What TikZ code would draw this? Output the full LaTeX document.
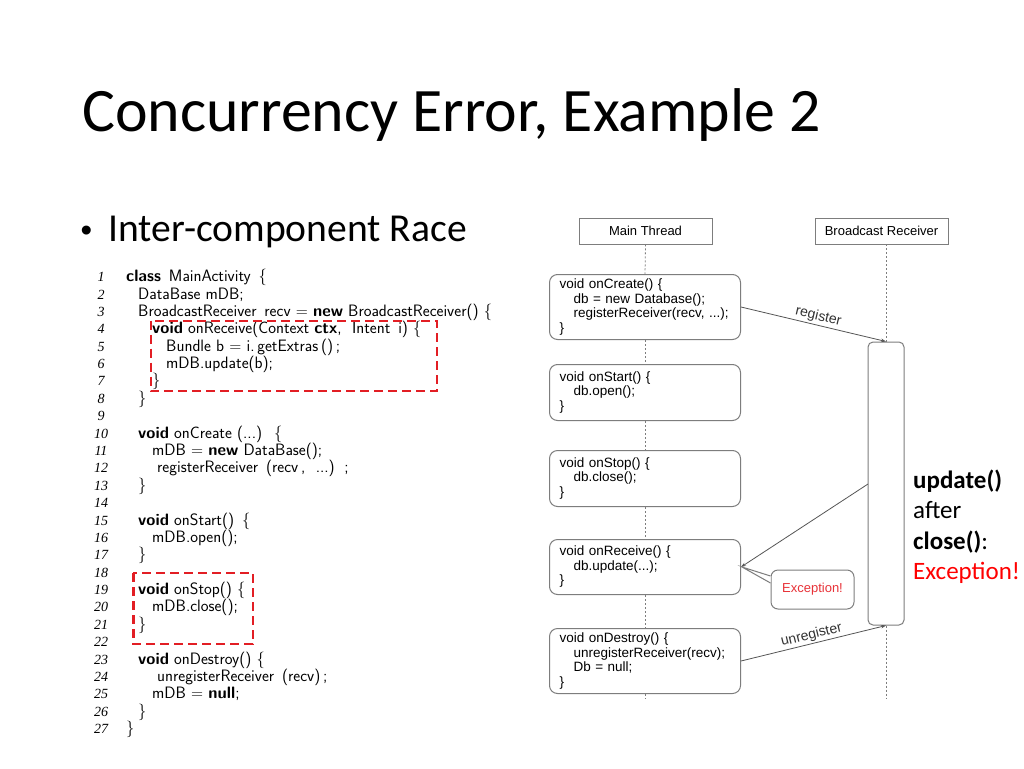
\documentclass[tikz,border=0pt]{standalone}
\usepackage{fontspec}
\newfontfamily\calibri{Carlito}
\newfontfamily\arial{Liberation Sans}
\newfontfamily\tmsfont{Liberation Serif}
\usetikzlibrary{arrows.meta,calc}
\definecolor{codered}{RGB}{226,30,36}
\definecolor{exred}{RGB}{232,50,56}
\definecolor{slred}{RGB}{255,0,0}
\definecolor{boxgray}{RGB}{125,125,125}
\definecolor{linegray}{RGB}{85,85,85}
\newcommand\codeln[3]{%
  \node[codetxt] (c#1) at (#2,{281.7+(#1-1)*17.38}) {#3};%
  \node[lnum] (n#1) at (101,{281.7+(#1-1)*17.38}) {#1};}
\newcommand\blankln[1]{%
  \node[lnum] (n#1) at (101,{281.7+(#1-1)*17.38}) {#1};}
\begin{document}
\begin{tikzpicture}[x=1pt,y=-1pt,
  codetxt/.style={anchor=base west, inner sep=0pt, text=black, font=\sffamily\fontsize{16.5}{17}\selectfont},
  lnum/.style={anchor=base, inner sep=0pt, font=\tmsfont\itshape\fontsize{14}{15}\selectfont},
  hdr/.style={draw=boxgray, line width=0.9pt, minimum width=133pt, minimum height=26pt, inner sep=0pt, font=\arial\fontsize{13}{15}\selectfont},
  mbox/.style={draw=boxgray, line width=1pt, rounded corners=8pt, minimum width=191pt, text width=171pt, align=left, inner xsep=10pt, inner ysep=0pt, font=\arial\fontsize{13.5}{14.5}\selectfont, anchor=north west},
  life/.style={draw=boxgray, line width=0.8pt, dash pattern=on 2pt off 2pt},
  msg/.style={draw=linegray, line width=0.8pt, -{Stealth[length=5pt,width=3.5pt]}},
  msglbl/.style={sloped, above, inner sep=1.5pt, font=\arial\fontsize{14}{15}\selectfont, text=black!80},
  redbox/.style={draw=codered, line width=2.4pt, dash pattern=on 9pt off 5pt},
  slide/.style={anchor=base west, inner sep=0pt, font=\calibri\fontsize{25}{30}\selectfont}]
\useasboundingbox (0,0) rectangle (1024,768);
\fill[white] (0,0) rectangle (1024,768);

% title and bullet
\node[anchor=base west, inner sep=0pt, font=\calibri\fontsize{61.8}{70}\selectfont] (title) at (82,131.7) {Concurrency Error, Example 2};
\node[anchor=base west, inner sep=0pt, font=\arial\fontsize{33}{40}\selectfont] (bul) at (80.5,241.7) {•};
\node[anchor=base west, inner sep=0pt, font=\calibri\fontsize{39.6}{46}\selectfont] (race) at (108.3,241.7) {Inter-component Race};

% code listing
\codeln{1}{126}{\textbf{class}\, MainActivity\, \{}
\codeln{2}{138}{DataBase mDB;}
\codeln{3}{138}{BroadcastReceiver\, recv = \textbf{new} BroadcastReceiver() \{}
\codeln{4}{152}{\textbf{void} onReceive(Context \textbf{ctx}, \ Intent\, i) \{}
\codeln{5}{166}{Bundle b = i.\,getExtras\,()\,;}
\codeln{6}{166}{mDB.update(b);}
\codeln{7}{152}{\}}
\codeln{8}{138}{\}}
\blankln{9}
\codeln{10}{138}{\textbf{void} onCreate (...) \ \{}
\codeln{11}{152}{mDB = \textbf{new} DataBase();}
\codeln{12}{157}{registerReceiver\, (recv\,, \ ...)\, ;}
\codeln{13}{138}{\}}
\blankln{14}
\codeln{15}{138}{\textbf{void} onStart()\, \{}
\codeln{16}{152}{mDB.open();}
\codeln{17}{138}{\}}
\blankln{18}
\codeln{19}{138}{\textbf{void} onStop() \{}
\codeln{20}{152}{mDB.close();}
\codeln{21}{138}{\}}
\blankln{22}
\codeln{23}{138}{\textbf{void} onDestroy() \{}
\codeln{24}{157}{unregisterReceiver\, (recv)\,;}
\codeln{25}{152}{mDB = \textbf{null};}
\codeln{26}{138}{\}}
\codeln{27}{126}{\}}

\draw[redbox] (150.7,320.7) rectangle (437,391);
\draw[redbox] (133.3,573) rectangle (253,644);

% sequence diagram
\node[hdr] (mt) at (645.5,231) {Main Thread};
\node[hdr] (br) at (881.5,231) {Broadcast Receiver};

\node[mbox, minimum height=65pt] (create) at (549,274)
  {void onCreate() \{\\\hspace*{14pt}db = new Database();\\\hspace*{14pt}registerReceiver(recv, ...);\\\}};
\node[mbox, minimum height=56pt] (start) at (549,364)
  {void onStart() \{\\\hspace*{14pt}db.open();\\\}};
\node[mbox, minimum height=56pt] (stop) at (549,450)
  {void onStop() \{\\\hspace*{14pt}db.close();\\\}};
\node[mbox, minimum height=55pt] (recv) at (549,539)
  {void onReceive() \{\\\hspace*{14pt}db.update(...);\\\}};
\node[mbox, minimum height=65pt] (destroy) at (549,628)
  {void onDestroy() \{\\\hspace*{14pt}unregisterReceiver(recv);\\\hspace*{14pt}Db = null;\\\}};

\node[draw=boxgray, line width=1pt, rounded corners=5pt, minimum width=36pt, minimum height=283pt, inner sep=0pt] (bar) at (886,483.5) {};

\coordinate (mend) at (645,699);
\coordinate (brend) at (886,699);
\coordinate (brtop) at (886,244);

\draw[life] (mt.south) -- (create.north);
\draw[life] (create.south) -- (start.north);
\draw[life] (start.south) -- (stop.north);
\draw[life] (stop.south) -- (recv.north);
\draw[life] (recv.south) -- (destroy.north);
\draw[life] (destroy.south) -- (mend);
\draw[life] (brtop) -- (bar.north);
\draw[life] (bar.south) -- (brend);

\draw[msg] (create.east) -- node[msglbl, pos=0.52] {register} (bar.north);
\draw[msg] (destroy.east) -- node[msglbl, pos=0.5] {unregister} (bar.south);
\coordinate (ustart) at (868,484);
\draw[msg] (ustart) -- (recv.east);

% callout
\node[draw=boxgray, line width=1pt, rounded corners=7pt, minimum width=83pt, minimum height=39pt, inner sep=0pt, font=\arial\fontsize{13}{15}\selectfont, text=exred] (exc) at (812.5,589.5) {Exception!};
\coordinate (tip) at (742,567);
\fill[white] ($(exc.west)+(0,-13.5)$) -- (tip) -- ($(exc.west)+(0,-6.5)$) -- cycle;
\draw[boxgray, line width=1pt] ($(exc.west)+(0,-13.5)$) -- (tip) -- ($(exc.west)+(0,-6.5)$);

% right-hand slide text
\node[slide] (rt1) at (913,488) {\textbf{update()}};
\node[slide] (rt2) at (913,518.5) {after};
\node[slide] (rt3) at (913,549) {\textbf{close()}:};
\node[slide, text=slred] (rt4) at (913,579.5) {Exception!};
\end{tikzpicture}
\end{document}
